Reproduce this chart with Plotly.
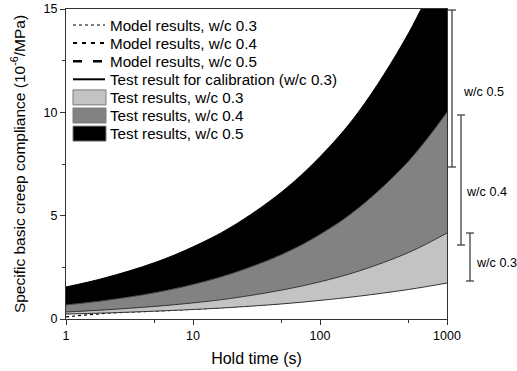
import plotly.graph_objects as go

# Hold time (s)
time_s = [1, 2, 5, 10, 20, 50, 100, 200, 500, 1000]

# Band boundaries, specific basic creep compliance (10^-6/MPa)
wc03_lower = [0.24, 0.29, 0.38, 0.46, 0.56, 0.73, 0.90, 1.10, 1.43, 1.74]
wc03_upper = [0.34, 0.44, 0.61, 0.78, 1.00, 1.40, 1.80, 2.31, 3.22, 4.16]
wc04_upper = [0.68, 0.89, 1.27, 1.67, 2.19, 3.12, 4.09, 5.36, 7.65, 10.0]
wc05_upper = [1.55, 1.98, 2.73, 3.49, 4.45, 6.15, 7.85, 10.0, 13.85, 17.7]

# Model / calibration curves
model_03 = [0.10, 0.27, 0.38, 0.47, 0.58, 0.76, 0.95, 1.18, 1.55, 1.90]
model_04 = [0.50, 0.66, 0.93, 1.20, 1.58, 2.25, 2.95, 3.85, 5.40, 7.00]
model_05 = [1.10, 1.40, 1.95, 2.50, 3.20, 4.45, 5.70, 7.30, 10.2, 13.2]
calib_03 = [0.28, 0.36, 0.49, 0.61, 0.77, 1.05, 1.33, 1.68, 2.30, 2.90]

legend_names = [
    "Model results, w/c 0.3",
    "Model results, w/c 0.4",
    "Model results, w/c 0.5",
    "Test result for calibration (w/c 0.3)",
    "Test results, w/c 0.3",
    "Test results, w/c 0.4",
    "Test results, w/c 0.5",
]
band_colors = ["#c3c3c3", "#828282", "#000000"]

bracket_labels = ["w/c 0.5", "w/c 0.4", "w/c 0.3"]

FONT = "Arial, Liberation Sans, sans-serif"

# plot area in pixels
W, H = 517, 371
L, R, T, B = 66, 447, 9, 319


def px(xp):
    return (xp - L) / (R - L)


def py(yp):
    return 1 - (yp - T) / (B - T)


fig = go.Figure()

# model lines (drawn under the bands)
line_styles = [
    dict(color="black", width=1.2, dash="dot"),
    dict(color="black", width=2.0, dash="4px,5px"),
    dict(color="black", width=2.6, dash="9px,11px"),
    dict(color="black", width=2.0),
]
for i, ys in enumerate([model_03, model_04, model_05, calib_03]):
    fig.add_trace(go.Scatter(x=time_s, y=ys, mode="lines", name=legend_names[i],
                             line=dict(shape="spline", **line_styles[i]), showlegend=False))

# bands
fig.add_trace(go.Scatter(x=time_s, y=wc03_lower, mode="lines", showlegend=False,
                         line=dict(color="#333333", width=1, shape="spline"), hoverinfo="skip"))
for i, ys in enumerate([wc03_upper, wc04_upper, wc05_upper]):
    fig.add_trace(go.Scatter(x=time_s, y=ys, mode="lines", name=legend_names[4 + i],
                             showlegend=False, fill="tonexty", fillcolor=band_colors[i],
                             line=dict(color=["#333333", "#444444", "#000000"][i], width=1,
                                       shape="spline")))

# legend (drawn by hand to match the reference spacing)
row_y = [25 + 18.1 * i for i in range(7)]
sx0, sx1, tx = 73, 105, 107.5
for i in range(4):
    st = dict(line_styles[i])
    fig.add_shape(type="line", xref="paper", yref="paper", x0=px(sx0), x1=px(sx1),
                  y0=py(row_y[i]), y1=py(row_y[i]), line=st)
for i in range(3):
    yc = row_y[4 + i]
    fig.add_shape(type="rect", xref="paper", yref="paper", x0=px(sx0), x1=px(sx1 + 1),
                  y0=py(yc - 7.5), y1=py(yc + 7.5), fillcolor=band_colors[i],
                  line=dict(color="#7a7a7a", width=1))
for i, name in enumerate(legend_names):
    fig.add_annotation(xref="paper", yref="paper", x=px(tx), y=py(row_y[i]), text=name,
                       showarrow=False, xanchor="left", yanchor="middle",
                       font=dict(family=FONT, size=15.2, color="black"))

# right-side brackets
bracket_x = [452, 461, 470]
bracket_px = [(10, 167), (115, 245), (233, 281)]
label_pos = [(461, 92), (464, 192), (474, 263)]
cap = 4
for xb, (y0p, y1p), lab, (lx, lyp) in zip(bracket_x, bracket_px, bracket_labels, label_pos):
    fig.add_shape(type="line", xref="paper", yref="paper", x0=px(xb), x1=px(xb),
                  y0=py(y0p), y1=py(y1p), line=dict(color="#333333", width=1.2))
    for yy in (y0p, y1p):
        fig.add_shape(type="line", xref="paper", yref="paper", x0=px(xb - cap),
                      x1=px(xb + cap), y0=py(yy), y1=py(yy),
                      line=dict(color="#333333", width=1.2))
    fig.add_annotation(xref="paper", yref="paper", x=px(lx), y=py(lyp), text=lab,
                       showarrow=False, xanchor="left", yanchor="middle",
                       font=dict(family=FONT, size=12.6, color="black"))

fig.update_layout(
    width=W, height=H,
    margin=dict(l=L, r=W - R, t=T, b=H - B, autoexpand=False),
    plot_bgcolor="white", paper_bgcolor="white",
    font=dict(family=FONT, size=13, color="black"),
    showlegend=False,
)

fig.update_xaxes(type="log", range=[0, 3], automargin=False,
                 tickvals=[1, 10, 100, 1000], ticktext=["1", "10", "100", "1000"],
                 ticks="outside", ticklen=5, tickwidth=1, tickcolor="#333333",
                 minor=dict(tickvals=[5, 50, 500], ticks="outside", ticklen=3,
                            tickcolor="#333333"),
                 showline=True, linecolor="#333333", linewidth=1, mirror=True,
                 showgrid=False, zeroline=False,
                 title=dict(text="Hold time (s)", font=dict(family=FONT, size=16), standoff=10),
                 tickfont=dict(family=FONT, size=12.5))
fig.update_yaxes(range=[0, 15], tickvals=[0, 5, 10, 15], automargin=False,
                 ticks="outside", ticklen=5, tickwidth=1, tickcolor="#333333",
                 minor=dict(dtick=2.5, ticks="outside", ticklen=3, tickcolor="#333333"),
                 showline=True, linecolor="#333333", linewidth=1, mirror=True,
                 showgrid=False, zeroline=False,
                 title=dict(text="Specific basic creep compliance (10<sup>-6</sup>/MPa)",
                            font=dict(family=FONT, size=15.5), standoff=14),
                 tickfont=dict(family=FONT, size=12.5))

fig.write_html("out.html")
